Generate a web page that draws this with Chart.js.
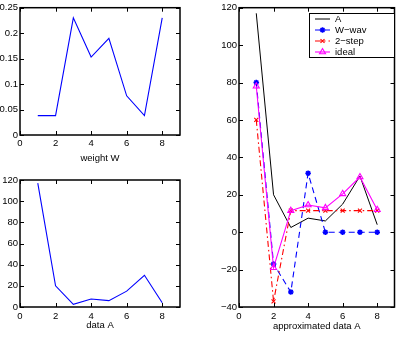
<!DOCTYPE html>
<html>
<head>
<meta charset="utf-8">
<script src="https://cdn.jsdelivr.net/npm/chart.js@4.4.1/dist/chart.umd.min.js"></script>
<style>
html, body { margin: 0; padding: 0; background: #fff; }
body { width: 400px; height: 338px; position: relative; overflow: hidden; }
.box { position: absolute; }
</style>
</head>
<body>
<div class="box" style="left:0;top:0;width:200px;height:170px"><canvas id="wChart"></canvas></div>
<div class="box" style="left:0;top:170px;width:200px;height:168px"><canvas id="aChart"></canvas></div>
<div class="box" style="left:200px;top:0;width:200px;height:338px"><canvas id="approxChart"></canvas></div>
<script>
// values
const xs = [1, 2, 3, 4, 5, 6, 7, 8];
const weightW = [0.038, 0.038, 0.23, 0.153, 0.19, 0.077, 0.038, 0.23];
const dataA = [117, 20, 2.5, 7.5, 6, 15, 30, 4];
const wWav = [80, -17, -32, 31.5, 0, 0, 0, 0];
const twoStep = [60, -37, 11.5, 11.5, 11.5, 11.5, 11.5, 11.5];
const ideal = [78, -19, 11.5, 14.5, 13, 20.5, 29.5, 12];
const legendLabels = ["A", "W\u2212wav", "2\u2212step", "ideal"];

const font = { family: "'Liberation Sans', Arial, sans-serif", size: 9.5 };
const pts = vals => xs.map((x, i) => ({ x: x, y: vals[i] }));
const fmt = v => (Math.round(v * 100) / 100).toString().replace('-', '\u2212');

// matlab-like box with inward ticks on all sides
const frame = {
    id: 'frame',
    afterDatasetsDraw(chart) {
        const ctx = chart.ctx;
        const a = chart.chartArea;
        const x = chart.scales.x, y = chart.scales.y;
        ctx.save();
        ctx.strokeStyle = '#000';
        ctx.lineWidth = 1;
        ctx.beginPath();
        x.ticks.forEach(t => {
            const px = Math.round(x.getPixelForValue(t.value)) + 0.5;
            ctx.moveTo(px, a.bottom); ctx.lineTo(px, a.bottom - 4);
            ctx.moveTo(px, a.top); ctx.lineTo(px, a.top + 4);
        });
        y.ticks.forEach(t => {
            const py = Math.round(y.getPixelForValue(t.value)) + 0.5;
            ctx.moveTo(a.left, py); ctx.lineTo(a.left + 4, py);
            ctx.moveTo(a.right, py); ctx.lineTo(a.right - 4, py);
        });
        ctx.stroke();
        ctx.lineWidth = 1.5;
        ctx.strokeRect(a.left, a.top, a.right - a.left, a.bottom - a.top);
        ctx.restore();
    }
};

// legend box drawn inside the plot, top right
const boxLegend = {
    id: 'boxLegend',
    afterDraw(chart) {
        const ctx = chart.ctx;
        const bx = 109, by = 13, bw = 85, bh = 44;
        ctx.save();
        ctx.fillStyle = '#fff';
        ctx.fillRect(bx, by, bw, bh);
        ctx.strokeStyle = '#000';
        ctx.lineWidth = 1;
        ctx.strokeRect(bx + 0.5, by + 0.5, bw, bh);
        chart.data.datasets.forEach((ds, i) => {
            const ry = by + 6 + i * 11;
            ctx.strokeStyle = ds.borderColor;
            ctx.lineWidth = ds.borderWidth;
            ctx.setLineDash(ds.borderDash || []);
            ctx.beginPath();
            ctx.moveTo(bx + 6, ry);
            ctx.lineTo(bx + 21, ry);
            ctx.stroke();
            ctx.setLineDash([]);
            if (ds.pointRadius > 0 && Chart.helpers && Chart.helpers.drawPoint) {
                ctx.fillStyle = ds.pointBackgroundColor || ds.borderColor;
                ctx.strokeStyle = ds.borderColor;
                ctx.lineWidth = ds.pointBorderWidth || 1;
                Chart.helpers.drawPoint(ctx, { pointStyle: ds.pointStyle, radius: ds.pointRadius, rotation: 0, borderWidth: ds.pointBorderWidth || 1 }, bx + 13.5, ry);
            }
            ctx.fillStyle = '#000';
            ctx.font = font.size + 'px ' + font.family;
            ctx.textBaseline = 'middle';
            ctx.textAlign = 'left';
            ctx.fillText(legendLabels[i], bx + 26, ry);
        });
        ctx.restore();
    }
};

function axes(yMin, yMax, yStep, xTitle, leftW, bottomH, tickPad, titlePad) {
    return {
        x: {
            type: 'linear', min: 0, max: 9,
            grid: { display: false, drawTicks: false },
            border: { display: false },
            ticks: { stepSize: 2, includeBounds: false, padding: tickPad, maxRotation: 0, autoSkip: false, color: '#000', font: font },
            title: { display: true, text: xTitle, color: '#000', font: font, padding: { top: titlePad, bottom: titlePad } },
            afterFit(s) { s.height = bottomH; }
        },
        y: {
            type: 'linear', min: yMin, max: yMax,
            grid: { display: false, drawTicks: false },
            border: { display: false },
            ticks: { stepSize: yStep, includeBounds: false, padding: 2, autoSkip: false, color: '#000', font: font, callback: v => fmt(v) },
            afterFit(s) { s.width = leftW; }
        }
    };
}

const common = {
    responsive: true,
    maintainAspectRatio: false,
    animation: false,
    plugins: { legend: { display: false }, tooltip: { enabled: false } }
};

new Chart('wChart', {
    type: 'line',
    data: { datasets: [{ data: pts(weightW), borderColor: '#0000ff', borderWidth: 1.1, pointRadius: 0, fill: false }] },
    options: Object.assign({}, common, {
        layout: { padding: { left: 0, top: 7, right: 20, bottom: 0 } },
        scales: axes(0, 0.25, 0.05, 'weight W', 20, 35, 3, 6)
    }),
    plugins: [frame]
});

new Chart('aChart', {
    type: 'line',
    data: { datasets: [{ data: pts(dataA), borderColor: '#0000ff', borderWidth: 1.1, pointRadius: 0, fill: false }] },
    options: Object.assign({}, common, {
        layout: { padding: { left: 0, top: 10, right: 20, bottom: 0 } },
        scales: axes(0, 120, 20, 'data A', 20, 31, 4, 7)
    }),
    plugins: [frame]
});

new Chart('approxChart', {
    type: 'line',
    data: {
        datasets: [
            { data: pts(dataA), borderColor: '#000000', borderWidth: 1, pointRadius: 0, fill: false, order: 3 },
            { data: pts(wWav), borderColor: '#0000ff', borderWidth: 1.1, borderDash: [6, 4], pointStyle: 'star',
              pointRadius: 2.8, pointBorderWidth: 1.5, pointBorderColor: '#0000ff', pointBackgroundColor: '#0000ff', fill: false, order: 2 },
            { data: pts(twoStep), borderColor: '#ff0000', borderWidth: 1.1, borderDash: [6, 3, 1.5, 3], pointStyle: 'crossRot',
              pointRadius: 2.8, pointBorderWidth: 1.1, pointBorderColor: '#ff0000', fill: false, order: 1 },
            { data: pts(ideal), borderColor: '#ff00ff', borderWidth: 1.1, pointStyle: 'triangle',
              pointRadius: 3.5, pointBorderWidth: 1.1, pointBorderColor: '#ff00ff', pointBackgroundColor: 'rgba(0,0,0,0)', fill: false, order: 0 }
        ]
    },
    options: Object.assign({}, common, {
        layout: { padding: { left: 0, top: 7, right: 1, bottom: 0 } },
        scales: axes(-40, 120, 20, 'approximated data A', 39, 31, 4, 6)
    }),
    plugins: [frame, boxLegend]
});
</script>
</body>
</html>
